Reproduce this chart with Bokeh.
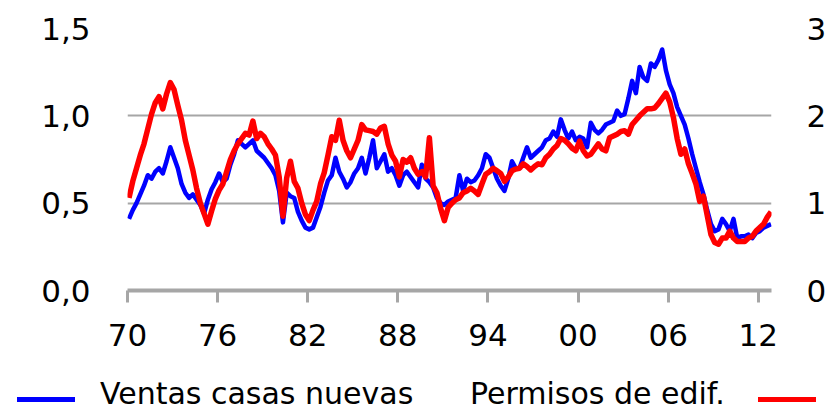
import numpy as np
from bokeh.plotting import figure
from bokeh.layouts import column
from bokeh.models import (Range1d, LinearAxis, FixedTicker, Div,
                          CustomJSTickFormatter)
from bokeh.embed import file_html
from bokeh.resources import INLINE

# ---------------- data (quarterly, millions, SAAR) ----------------
years = list(range(1970, 2013))

ventas = [  # new home sales, left axis
    0.41, 0.46, 0.50, 0.55,  0.60, 0.66, 0.64, 0.68,  0.70, 0.67, 0.74, 0.82,
    0.76, 0.70, 0.61, 0.56,  0.53, 0.55, 0.52, 0.49,  0.44, 0.52, 0.58, 0.62,
    0.67, 0.62, 0.64, 0.72,  0.78, 0.86, 0.84, 0.82,  0.84, 0.86, 0.80, 0.78,
    0.76, 0.73, 0.70, 0.66,  0.57, 0.39, 0.56, 0.54,  0.53, 0.45, 0.40, 0.36,
    0.35, 0.36, 0.42, 0.48,  0.56, 0.63, 0.66, 0.76,  0.68, 0.64, 0.59, 0.62,
    0.67, 0.70, 0.76, 0.67,  0.76, 0.86, 0.70, 0.74,  0.78, 0.68, 0.70, 0.66,
    0.60, 0.66, 0.68, 0.65,  0.62, 0.59, 0.72, 0.64,  0.62, 0.59, 0.53, 0.50,
    0.49, 0.51, 0.52, 0.53,  0.66, 0.57, 0.64, 0.62,  0.63, 0.66, 0.70, 0.78,
    0.76, 0.70, 0.64, 0.60,  0.57, 0.64, 0.74, 0.70,  0.70, 0.76, 0.82, 0.76,
    0.78, 0.80, 0.82, 0.86,  0.87, 0.91, 0.88, 0.98,  0.92, 0.87, 0.91, 0.86,
    0.88, 0.87, 0.82, 0.96,  0.92, 0.90, 0.92, 0.95,  0.96, 0.97, 1.03, 1.00,
    1.01, 1.10, 1.20, 1.13,  1.28, 1.22, 1.20, 1.30,  1.28, 1.32, 1.38, 1.26,
    1.18, 1.13, 1.05, 1.00,  0.95, 0.87, 0.78, 0.70,  0.62, 0.55, 0.46, 0.38,
    0.34, 0.35, 0.41, 0.38,  0.34, 0.41, 0.30, 0.31,  0.31, 0.32, 0.30, 0.33,
    0.34, 0.36, 0.37, 0.38,
]

permisos = [  # building permits, right axis
    1.06, 1.25, 1.40, 1.55,  1.68, 1.85, 2.02, 2.15,  2.22, 2.08, 2.25, 2.38,
    2.30, 2.12, 1.95, 1.72,  1.55, 1.38, 1.17, 1.00,  0.88, 0.76, 0.91, 1.05,
    1.15, 1.22, 1.36, 1.50,  1.60, 1.68, 1.74, 1.80,  1.78, 1.94, 1.74, 1.80,
    1.76, 1.68, 1.62, 1.55,  1.30, 0.85, 1.29, 1.48,  1.25, 1.17, 1.00, 0.87,
    0.80, 0.92, 1.02, 1.22,  1.35, 1.55, 1.76, 1.72,  1.95, 1.72, 1.60, 1.52,
    1.62, 1.72, 1.90, 1.84,  1.83, 1.82, 1.79, 1.86,  1.88, 1.68, 1.55, 1.48,
    1.30, 1.50, 1.47, 1.52,  1.40, 1.33, 1.36, 1.30,  1.75, 1.20, 1.12, 0.94,
    0.80, 0.95, 1.00, 1.04,  1.06, 1.12, 1.14, 1.17,  1.14, 1.10, 1.22, 1.33,
    1.36, 1.40, 1.37, 1.34,  1.25, 1.30, 1.37, 1.39,  1.40, 1.45, 1.42, 1.38,
    1.42, 1.45, 1.44, 1.52,  1.56, 1.62, 1.66, 1.74,  1.72, 1.68, 1.63, 1.60,
    1.71, 1.60, 1.54, 1.56,  1.62, 1.68, 1.62, 1.60,  1.75, 1.77, 1.79, 1.82,
    1.83, 1.79, 1.90, 1.95,  2.00, 2.04, 2.08, 2.08,  2.09, 2.14, 2.20, 2.26,
    2.16, 1.98, 1.74, 1.56,  1.62, 1.45, 1.34, 1.22,  1.02, 1.08, 0.86, 0.64,
    0.55, 0.53, 0.60, 0.60,  0.68, 0.60, 0.56, 0.56,  0.56, 0.60, 0.62, 0.68,
    0.72, 0.76, 0.84, 0.90,
]

x_ticks = [1970, 1976, 1982, 1988, 1994, 2000, 2006, 2012]
x_labels = ["70", "76", "82", "88", "94", "00", "06", "12"]
yl_ticks = [0.0, 0.5, 1.0, 1.5]
yl_labels = ["0,0", "0,5", "1,0", "1,5"]
yr_ticks = [0, 1, 2, 3]
yr_labels = ["0", "1", "2", "3"]
serie_a = "Ventas casas nuevas"
serie_b = "Permisos de edif."

t = np.array([y + q / 4 + 0.1 for y in years for q in range(4)])
assert len(ventas) == len(t) == len(permisos)

FONT = "DejaVu Sans"
GREY = "#A6A6A6"
BLUE = "#0000FF"
RED = "#FF0000"

def fmt(tks, lbs):
    return CustomJSTickFormatter(args=dict(tk=tks, lb=lbs), code="""
        const i = tk.findIndex(v => Math.abs(v - tick) < 1e-9);
        return i >= 0 ? lb[i] : '';
    """)

# ---------------- main chart ----------------
p = figure(width=829, height=362, output_backend="svg", toolbar_location=None,
           x_range=Range1d(1970, 2012.88), y_range=Range1d(0, 1.5),
           min_border_left=127, min_border_right=58, min_border_top=28,
           min_border_bottom=72)
p.extra_y_ranges = {"right": Range1d(0, 3)}
p.outline_line_color = None
p.background_fill_color = "white"
p.border_fill_color = "white"

p.xgrid.visible = False
p.ygrid.ticker = FixedTicker(ticks=yl_ticks)
p.ygrid.grid_line_color = GREY
p.ygrid.grid_line_width = 2

xa = p.xaxis[0]
xa.ticker = FixedTicker(ticks=x_ticks)
xa.formatter = fmt(x_ticks, x_labels)
xa.axis_line_color = GREY
xa.axis_line_width = 4
xa.major_tick_line_color = GREY
xa.major_tick_line_width = 3
xa.major_tick_out = 12
xa.major_tick_in = 0
xa.minor_tick_line_color = None
xa.minor_tick_out = 0
xa.major_label_text_font = FONT
xa.major_label_text_font_size = "31px"
xa.major_label_text_color = "black"
xa.major_label_standoff = 21

def style_y(ax, standoff):
    ax.axis_line_color = None
    ax.major_tick_line_color = None
    ax.minor_tick_line_color = None
    ax.major_tick_out = 0
    ax.major_tick_in = 0
    ax.minor_tick_out = 0
    ax.minor_tick_in = 0
    ax.major_label_text_font = FONT
    ax.major_label_text_font_size = "31px"
    ax.major_label_text_color = "black"
    ax.major_label_standoff = standoff

ya = p.yaxis[0]
ya.ticker = FixedTicker(ticks=yl_ticks)
ya.formatter = fmt(yl_ticks, yl_labels)
style_y(ya, 37)

yr = LinearAxis(y_range_name="right", ticker=FixedTicker(ticks=yr_ticks),
                formatter=fmt(yr_ticks, yr_labels))
style_y(yr, 35)
p.add_layout(yr, "right")

p.line(t, ventas, line_color=BLUE, line_width=4.5, line_join="round")
p.line(t, permisos, line_color=RED, line_width=5.5, line_join="round",
       y_range_name="right")

# ---------------- legend strip (HTML) ----------------
def swatch(color, left):
    return (f'<span style="position:absolute;left:{left}px;top:35px;width:58px;'
            f'height:5px;background:{color};"></span>')

def txt(s, left):
    return (f'<span style="position:absolute;left:{left}px;top:14px;'
            f'white-space:nowrap;">{s}</span>')

html = (f'<div style="position:relative;width:829px;height:50px;overflow:visible;'
        f'font-family:\'{FONT}\';font-size:30px;line-height:normal;color:black;'
        f'background:white;">'
        + swatch(BLUE, 17) + txt(serie_a, 100) + txt(serie_b, 470) + swatch(RED, 758)
        + '</div>')

leg = Div(text=html, width=829, height=50, margin=(0, 0, 0, 0))

layout = column(p, leg, spacing=0)
open("out.html", "w").write(file_html(layout, INLINE))
